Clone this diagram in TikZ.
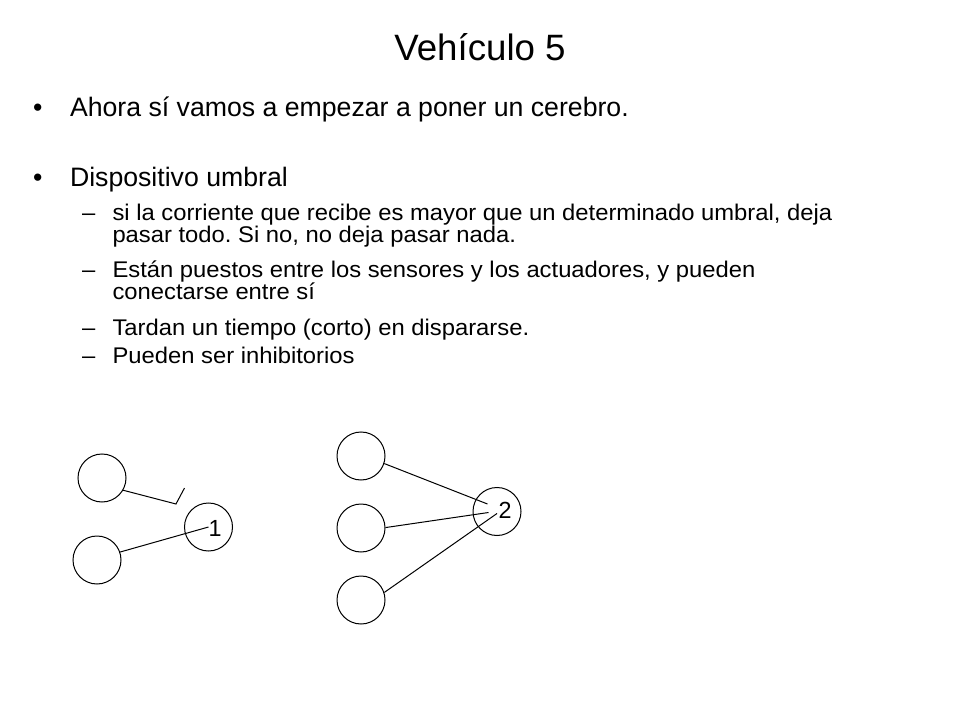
\documentclass[tikz,border=0pt]{standalone}
\usepackage{fontspec}
\setmainfont{Liberation Sans}
\newfontfamily\subfam[FakeStretch=1.05]{Liberation Sans}
\frenchspacing
\begin{document}
\begin{tikzpicture}[x=0.75pt,y=-0.75pt,
  txt/.style={anchor=base west,inner sep=0pt,outer sep=0pt},
  titlefont/.style={font=\fontsize{27.5}{33}\selectfont},
  bodyfont/.style={font=\fontsize{20}{24}\selectfont},
  subfont/.style={font=\subfam\fontsize{17}{21}\selectfont},
  neuron/.style={circle,draw,line width=0.75pt,minimum size=36pt,inner sep=0pt},
  wire/.style={line width=0.75pt},
  numlabel/.style={inner sep=0pt,font=\fontsize{17.5}{21}\selectfont}]
\useasboundingbox (0,0) rectangle (960,720);
% title
\node[anchor=base,inner sep=0pt,titlefont] (title) at (480,61) {Vehículo 5};
% bullets
\node[txt,bodyfont] (b1dot) at (33,117) {•};
\node[txt,bodyfont] (b1) at (70,117) {Ahora sí vamos a empezar a poner un cerebro.};
\node[txt,bodyfont] (b2dot) at (33,186.5) {•};
\node[txt,bodyfont] (b2) at (70,186.5) {Dispositivo umbral};
% sub bullets
\node[txt,subfont] (s1dash) at (82,220.5) {–};
\node[txt,subfont] (s1a) at (112.5,220.5) {si la corriente que recibe es mayor que un determinado umbral, deja};
\node[txt,subfont] (s1b) at (112.5,243) {pasar todo. Si no, no deja pasar nada.};
\node[txt,subfont] (s2dash) at (82,277) {–};
\node[txt,subfont] (s2a) at (112.5,277) {Están puestos entre los sensores y los actuadores, y pueden};
\node[txt,subfont] (s2b) at (112.5,299.5) {conectarse entre sí};
\node[txt,subfont] (s3dash) at (82,335) {–};
\node[txt,subfont] (s3) at (112.5,335) {Tardan un tiempo (corto) en dispararse.};
\node[txt,subfont] (s4dash) at (82,363.5) {–};
\node[txt,subfont] (s4) at (112.5,363.5) {Pueden ser inhibitorios};
% left group
\node[neuron] (cA) at (102,478) {};
\node[neuron] (cB) at (97,560) {};
\node[neuron] (c1) at (208.5,527) {};
\node[numlabel] (l1) at (215,528) {1};
\coordinate (hk1) at (176,504);
\coordinate (hk2) at (184.5,488);
\draw[wire] (cA.-30) -- (hk1) -- (hk2);
\draw[wire] (cB.19) -- (c1.center);
% right group
\node[neuron] (r1) at (361,456) {};
\node[neuron] (r2) at (361,528) {};
\node[neuron] (r3) at (361,600) {};
\node[neuron] (c2) at (497,511.5) {};
\node[numlabel] (l2) at (505,510) {2};
\coordinate (e1) at (487.5,504);
\coordinate (e2) at (488.5,512.5);
\coordinate (e3) at (497,513.5);
\draw[wire] (r1.-18) -- (e1);
\draw[wire] (r2.1) -- (e2);
\draw[wire] (r3.18) -- (e3);
\end{tikzpicture}
\end{document}
